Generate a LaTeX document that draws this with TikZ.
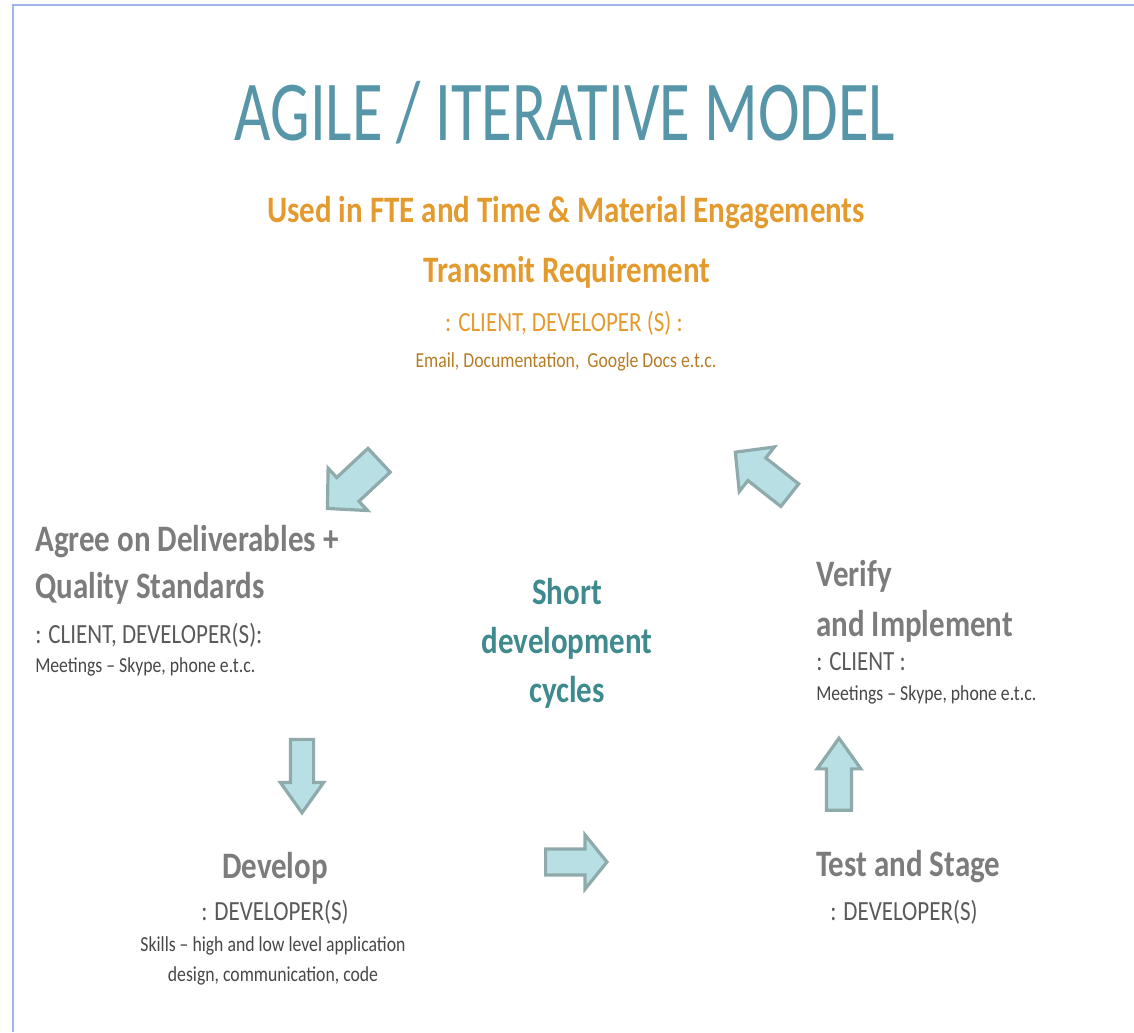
\documentclass[tikz,border=0pt]{standalone}
\usepackage{fontspec}
\setmainfont{Carlito}[FakeStretch=0.83]
\newfontfamily\titlefont{Carlito}[FakeStretch=0.735]
\usepackage{xcolor}
\usepackage{tikz}
\usetikzlibrary{shapes.arrows}
\definecolor{frameblue}{HTML}{9DB5E8}
\definecolor{titleteal}{HTML}{5796A8}
\definecolor{engorange}{HTML}{E39B2F}
\definecolor{headgray}{HTML}{7C7C7C}
\definecolor{whogray}{HTML}{5A5A5A}
\definecolor{howgray}{HTML}{474747}
\definecolor{cycleteal}{HTML}{3E8A8E}
\definecolor{arrowfill}{HTML}{B8E0E4}
\definecolor{arrowline}{HTML}{8FAAAB}
\tikzset{
  heading/.style={
    % the big grey step names
    inner sep=0pt, align=left,
    font=\fontsize{28}{35}\selectfont\bfseries, text=headgray
  },
  who/.style={inner sep=0pt, font=\fontsize{20.8}{24}\selectfont, text=whogray},
  how/.style={inner sep=0pt, align=center, font=\fontsize{16}{22.5}\selectfont, text=howgray},
  blockarrow/.style={
    % The shape:
    single arrow, inner xsep=0pt, minimum height=54pt,
    % The rest
    line width=2.4pt, draw=arrowline, fill=arrowfill
  }
}
\begin{document}
\begin{tikzpicture}[x=0.75pt,y=-0.75pt]
  \useasboundingbox (0,0) rectangle (1134,1032);
  \draw[frameblue, line width=1.5pt] (13,1032) -- (13,5) -- (1134,5);

  % top: the requirement
  \node (title) [anchor=base, inner sep=0pt, text=titleteal,
    font=\titlefont\fontsize{64}{70}\selectfont] at (565,140) {AGILE / ITERATIVE MODEL};
  \node (used) [anchor=base, inner sep=0pt, text=engorange,
    font=\fontsize{28}{34}\selectfont\bfseries] at (566,222)
    {Used in FTE and Time \& Material Engagements};
  \node (req) [anchor=base, inner sep=0pt, text=engorange,
    font=\fontsize{28}{34}\selectfont\bfseries] at (567,282) {Transmit Requirement};
  \node (reqwho) [who, anchor=base, text=engorange] at (564,331) {: CLIENT, DEVELOPER (S) :};
  \node (reqhow) [how, anchor=base, text=engorange!80!black] at (566,367)
    {Email, Documentation,\ \ Google Docs e.t.c.};

  % left: deliverables
  \node (agree) [heading, anchor=base west] at (35,598)
    {Agree on Deliverables +\\Quality Standards};
  \node (agreewho) [who, anchor=base west] at (35,643) {: CLIENT, DEVELOPER(S):};
  \node (agreehow) [how, anchor=base west] at (35,672) {Meetings -- Skype, phone e.t.c.};

  % middle
  \node (cycle) [heading, align=center, anchor=base, text=cycleteal,
    font=\fontsize{28}{36.5}\selectfont\bfseries] at (567,702)
    {Short\\development\\cycles};

  % right: verify
  \node (verify) [heading, anchor=base west,
    font=\fontsize{28}{37.5}\selectfont\bfseries] at (816,636) {Verify\\and Implement};
  \node (verifywho) [who, anchor=base west] at (816,670) {: CLIENT :};
  \node (verifyhow) [how, anchor=base west] at (816,700) {Meetings -- Skype, phone e.t.c.};

  % bottom: develop, test
  \node (dev) [heading, anchor=base] at (275,878) {Develop};
  \node (devwho) [who, anchor=base] at (275,920) {: DEVELOPER(S)};
  \node (devhow) [how, anchor=base] at (273,981)
    {Skills -- high and low level application\\design, communication, code};
  \node (test) [heading, anchor=base west] at (816,876) {Test and Stage};
  \node (testwho) [who, anchor=base west] at (830,920) {: DEVELOPER(S)};

  % the cycle arrows
  \node (toagree) [blockarrow, rotate=223, inner ysep=11pt, minimum height=53pt,
    single arrow head extend=9.5pt, single arrow tip angle=92] at (359,479) {};
  \node (todev) [blockarrow, rotate=-90, inner ysep=7.5pt, minimum height=55pt,
    single arrow head extend=7.5pt, single arrow tip angle=71] at (302,768) {};
  \node (totest) [blockarrow, inner ysep=8.6pt, minimum height=46pt,
    single arrow head extend=10.5pt, single arrow tip angle=102] at (571,862) {};
  \node (toverify) [blockarrow, rotate=90, inner ysep=8.2pt, minimum height=54pt,
    single arrow head extend=7pt, single arrow tip angle=71] at (839,783) {};
  \node (toreq) [blockarrow, rotate=141.7, inner ysep=9.6pt, minimum height=52pt,
    single arrow head extend=10.5pt, single arrow tip angle=92] at (768,478) {};
\end{tikzpicture}
\end{document}
